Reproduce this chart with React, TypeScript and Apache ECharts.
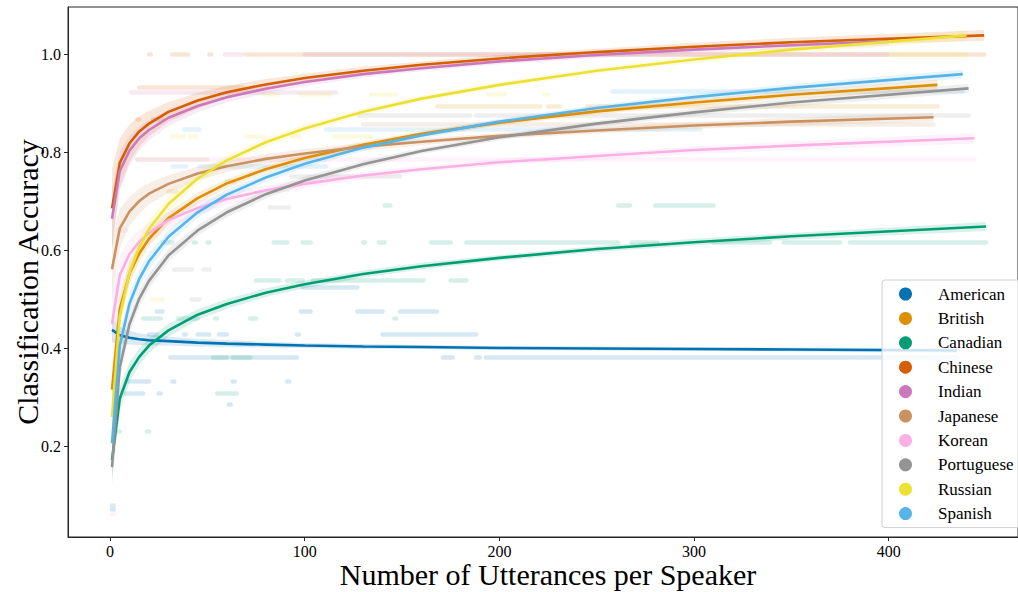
import React, { useEffect, useRef } from "react";
import * as echarts from "echarts";

const FONT = "Liberation Serif";

const languages = ["American", "British", "Canadian", "Chinese", "Indian", "Japanese", "Korean", "Portuguese", "Russian", "Spanish"];
const colors = ["#0173b2", "#de8f05", "#029e73", "#d55e00", "#cc78bc", "#ca9161", "#fbafe4", "#949494", "#ece133", "#56b4e9"];

const xTicks = [0, 100, 200, 300, 400];
const yTicks = [0.2, 0.4, 0.6, 0.8, 1.0];

// x positions of fitted-curve samples (plus each language's last x)
const xGrid = [1, 5, 10, 15, 20, 30, 45, 60, 80, 100, 130, 160, 200, 250, 300, 350];
const lastX = [435, 425, 450, 449, 400, 423, 444, 441, 440, 438];

// fitted accuracy curves
const fitAmerican = [0.437, 0.426, 0.421, 0.418, 0.416, 0.414, 0.411, 0.409, 0.407, 0.405, 0.403, 0.402, 0.400, 0.399, 0.398, 0.397, 0.395];
const fitBritish = [0.315, 0.480, 0.552, 0.593, 0.623, 0.665, 0.706, 0.736, 0.765, 0.788, 0.815, 0.837, 0.860, 0.883, 0.901, 0.917, 0.937];
const fitCanadian = [0.171, 0.297, 0.351, 0.382, 0.405, 0.436, 0.468, 0.490, 0.513, 0.530, 0.551, 0.567, 0.584, 0.602, 0.616, 0.628, 0.648];
const fitChinese = [0.685, 0.778, 0.818, 0.842, 0.858, 0.882, 0.905, 0.922, 0.938, 0.951, 0.966, 0.978, 0.991, 1.004, 1.015, 1.024, 1.038];
const fitIndian = [0.664, 0.761, 0.803, 0.828, 0.845, 0.870, 0.894, 0.912, 0.929, 0.943, 0.959, 0.971, 0.985, 0.998, 1.009, 1.018, 1.026];
const fitJapanese = [0.561, 0.644, 0.679, 0.700, 0.715, 0.735, 0.756, 0.771, 0.786, 0.797, 0.811, 0.821, 0.833, 0.844, 0.854, 0.862, 0.871];
const fitKorean = [0.449, 0.549, 0.592, 0.617, 0.635, 0.661, 0.686, 0.704, 0.722, 0.735, 0.752, 0.765, 0.779, 0.792, 0.804, 0.813, 0.828];
const fitPortuguese = [0.157, 0.361, 0.449, 0.501, 0.537, 0.589, 0.640, 0.677, 0.714, 0.742, 0.775, 0.802, 0.830, 0.858, 0.881, 0.901, 0.930];
const fitRussian = [0.259, 0.465, 0.554, 0.606, 0.643, 0.694, 0.746, 0.783, 0.820, 0.848, 0.882, 0.909, 0.937, 0.966, 0.989, 1.009, 1.038];
const fitSpanish = [0.206, 0.405, 0.491, 0.541, 0.577, 0.627, 0.677, 0.713, 0.748, 0.776, 0.809, 0.834, 0.862, 0.890, 0.912, 0.931, 0.959];

// confidence band half-widths at the same x positions
const bandAmerican = [0.025, 0.018, 0.014, 0.012, 0.011, 0.009, 0.008, 0.007, 0.006, 0.005, 0.005, 0.004, 0.004, 0.004, 0.004, 0.004, 0.005];
const bandBritish = [0.05, 0.03, 0.022, 0.018, 0.016, 0.013, 0.011, 0.009, 0.008, 0.007, 0.006, 0.006, 0.006, 0.006, 0.007, 0.008, 0.01];
const bandCanadian = [0.04, 0.025, 0.02, 0.017, 0.015, 0.013, 0.011, 0.01, 0.009, 0.008, 0.007, 0.007, 0.006, 0.006, 0.007, 0.007, 0.009];
const bandChinese = [0.08, 0.05, 0.038, 0.031, 0.026, 0.02, 0.016, 0.013, 0.011, 0.009, 0.008, 0.007, 0.007, 0.007, 0.008, 0.009, 0.011];
const bandIndian = [0.06, 0.04, 0.03, 0.025, 0.021, 0.017, 0.013, 0.011, 0.009, 0.008, 0.007, 0.006, 0.006, 0.006, 0.007, 0.008, 0.009];
const bandJapanese = [0.06, 0.04, 0.03, 0.026, 0.022, 0.018, 0.014, 0.012, 0.01, 0.009, 0.008, 0.007, 0.006, 0.006, 0.007, 0.008, 0.009];
const bandKorean = [0.06, 0.04, 0.03, 0.025, 0.021, 0.017, 0.014, 0.012, 0.01, 0.009, 0.008, 0.007, 0.007, 0.007, 0.008, 0.009, 0.011];
const bandPortuguese = [0.04, 0.025, 0.02, 0.017, 0.015, 0.013, 0.011, 0.01, 0.009, 0.008, 0.007, 0.006, 0.006, 0.006, 0.007, 0.008, 0.009];
const bandRussian = [0.05, 0.03, 0.024, 0.02, 0.018, 0.015, 0.012, 0.01, 0.009, 0.008, 0.007, 0.006, 0.006, 0.006, 0.007, 0.008, 0.01];
const bandSpanish = [0.045, 0.028, 0.022, 0.019, 0.017, 0.014, 0.012, 0.01, 0.009, 0.008, 0.007, 0.007, 0.006, 0.006, 0.007, 0.008, 0.009];

// runs of per-speaker observations: [x from, x to, accuracy]
const ptsAmerican = [[31, 60, 0.382], [63, 96, 0.382], [171, 176, 0.382], [188, 190, 0.382], [193, 435, 0.382], [20, 24, 0.429], [38, 39, 0.429], [45, 51, 0.429], [56, 60, 0.429], [96, 97, 0.429], [140, 188, 0.429], [24, 27, 0.476], [98, 103, 0.476], [127, 140, 0.476], [149, 168, 0.476], [9, 20, 0.333], [32, 33, 0.333], [63, 64, 0.333], [91, 92, 0.333], [8, 17, 0.308], [25, 26, 0.308], [61, 62, 0.286], [99, 127, 0.525], [1, 2, 0.07]];
const ptsBritish = [[168, 221, 0.894], [225, 231, 0.894], [245, 425, 0.894], [30, 34, 0.72], [60, 64, 0.74]];
const ptsCanadian = [[27, 32, 0.615], [43, 44, 0.615], [50, 51, 0.615], [84, 91, 0.615], [99, 103, 0.615], [130, 131, 0.615], [138, 141, 0.615], [165, 175, 0.615], [183, 261, 0.615], [268, 281, 0.615], [310, 339, 0.615], [346, 375, 0.615], [380, 450, 0.615], [141, 144, 0.692], [261, 267, 0.692], [280, 310, 0.692], [75, 87, 0.538], [91, 99, 0.538], [104, 161, 0.538], [175, 183, 0.538], [17, 26, 0.461], [35, 45, 0.461], [54, 55, 0.461], [72, 75, 0.461], [146, 147, 0.461], [53, 72, 0.382], [55, 65, 0.308], [4, 5, 0.231], [19, 20, 0.231], [1, 2, 0.08]];
const ptsChinese = [[20, 21, 1.0], [32, 40, 1.0], [51, 52, 1.0], [70, 449, 1.0], [15, 68, 0.933], [14, 15, 0.867], [22, 27, 0.867]];
const ptsIndian = [[59, 68, 1.0], [100, 399, 1.0], [11, 116, 0.923]];
const ptsJapanese = [[130, 423, 0.857], [14, 50, 0.786]];
const ptsKorean = [[14, 444, 0.786], [4, 8, 0.64], [1, 2, 0.06]];
const ptsPortuguese = [[128, 185, 0.876], [188, 441, 0.876], [93, 149, 0.75], [82, 92, 0.688], [33, 42, 0.561], [48, 51, 0.561], [42, 46, 0.5]];
const ptsRussian = [[400, 440, 1.0], [79, 86, 0.917], [98, 113, 0.917], [134, 147, 0.917], [194, 203, 0.917], [223, 225, 0.917], [32, 38, 0.833], [41, 44, 0.833], [70, 79, 0.833], [94, 97, 0.833], [115, 134, 0.833], [22, 27, 0.5]];
const ptsSpanish = [[258, 438, 0.925], [38, 46, 0.846], [111, 303, 0.846], [32, 39, 0.77], [46, 111, 0.77]];

const fits = [fitAmerican, fitBritish, fitCanadian, fitChinese, fitIndian, fitJapanese, fitKorean, fitPortuguese, fitRussian, fitSpanish];
const bands = [bandAmerican, bandBritish, bandCanadian, bandChinese, bandIndian, bandJapanese, bandKorean, bandPortuguese, bandRussian, bandSpanish];
const points = [ptsAmerican, ptsBritish, ptsCanadian, ptsChinese, ptsIndian, ptsJapanese, ptsKorean, ptsPortuguese, ptsRussian, ptsSpanish];

export default function App() {
  const ref = useRef<HTMLDivElement>(null);

  useEffect(() => {
    if (!ref.current) return;
    const chart = echarts.init(ref.current, null, { renderer: "svg" });

    const series: any[] = [];

    languages.forEach((name, li) => {
      series.push({
        type: "lines",
        name: name + " obs",
        coordinateSystem: "cartesian2d",
        silent: true,
        z: 1,
        lineStyle: { color: colors[li], width: 4.5, opacity: 0.16, cap: "round" },
        data: points[li].map((p) => ({ coords: [[p[0], p[2]], [p[1], p[2]]] })),
      });
    });

    languages.forEach((name, li) => {
      const xs = xGrid.concat([lastX[li]]);
      const ys = fits[li];
      const ws = bands[li];
      series.push({
        type: "custom",
        name: name + " ci",
        silent: true,
        z: 2,
        data: [[xs[0], ys[0]]],
        renderItem: (_params: any, api: any) => {
          const pts: number[][] = [];
          for (let i = 0; i < xs.length; i++) pts.push(api.coord([xs[i], ys[i] + ws[i]]));
          for (let i = xs.length - 1; i >= 0; i--) pts.push(api.coord([xs[i], ys[i] - ws[i]]));
          return {
            type: "polygon",
            shape: { points: pts },
            style: { fill: colors[li], opacity: 0.15 },
          };
        },
      });
    });

    languages.forEach((name, li) => {
      const xs = xGrid.concat([lastX[li]]);
      series.push({
        type: "line",
        name,
        color: colors[li],
        z: 3,
        showSymbol: false,
        symbol: "circle",
        lineStyle: { color: colors[li], width: 2.6 },
        itemStyle: { color: colors[li] },
        data: xs.map((x, i) => [x, fits[li][i]]),
      });
    });

    chart.setOption({
      animation: false,
      textStyle: { fontFamily: FONT },
      grid: {
        left: 68,
        right: 0,
        top: 7,
        bottom: 55,
        containLabel: false,
        outerBoundsMode: "none",
        show: true,
        borderColor: "#262626",
        borderWidth: 1,
        backgroundColor: "transparent",
      },
      xAxis: {
        type: "value",
        min: -21.6,
        max: 466.4,
        name: "Number of Utterances per Speaker",
        nameLocation: "middle",
        nameGap: 22,
        nameMoveOverlap: false,
        nameTextStyle: { fontFamily: FONT, fontSize: 30, lineHeight: 30, color: "#000", padding: [0, 0, 0, 10] },
        splitLine: { show: false },
        axisLine: { show: true, onZero: false, lineStyle: { color: "#262626", width: 1 } },
        axisTick: { show: true, length: 4, customValues: xTicks, lineStyle: { color: "#262626" } },
        axisLabel: { customValues: xTicks, fontFamily: FONT, fontSize: 16, lineHeight: 16, color: "#000", margin: 6 },
      },
      yAxis: {
        type: "value",
        min: 0.0143,
        max: 1.096,
        name: "Classification Accuracy",
        nameLocation: "middle",
        nameGap: 26,
        nameMoveOverlap: false,
        nameRotate: 90,
        nameTextStyle: { fontFamily: FONT, fontSize: 30, color: "#000", padding: [0, 20, 0, 0] },
        splitLine: { show: false },
        axisLine: { show: true, onZero: false, lineStyle: { color: "#262626", width: 1 } },
        axisTick: { show: true, length: 4, customValues: yTicks, lineStyle: { color: "#262626" } },
        axisLabel: {
          customValues: yTicks,
          fontFamily: FONT,
          fontSize: 16,
          color: "#000",
          margin: 7,
          formatter: (v: number) => v.toFixed(1),
        },
      },
      legend: {
        orient: "vertical",
        left: 882,
        top: 280,
        data: languages.map((n) => ({ name: n, icon: "circle" })),
        selectedMode: false,
        itemWidth: 13,
        itemHeight: 13,
        itemGap: 4.4,
        padding: [4, 40, 4, 17],
        backgroundColor: "rgba(255,255,255,0.8)",
        borderColor: "#d0d0d0",
        borderWidth: 1,
        borderRadius: 3,
        textStyle: { fontFamily: FONT, fontSize: 17, color: "#000", lineHeight: 20, padding: [0, 0, 0, 21] },
      },
      series,
    });

    return () => chart.dispose();
  }, []);

  return <div ref={ref} style={{ position: "absolute", left: 0, top: 0, width: 1018, height: 592 }} />;
}
